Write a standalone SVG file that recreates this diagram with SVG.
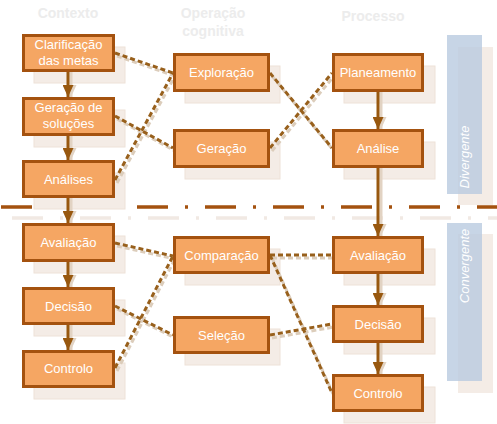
<svg xmlns="http://www.w3.org/2000/svg" width="497" height="424" viewBox="0 0 497 424">
<defs>
<style>
.hdr{font-family:"Liberation Sans",Arial,sans-serif;font-size:14px;font-weight:bold;fill:#ececec;text-anchor:middle}
.sh{fill:#f4ece6;stroke:#eee2d8;stroke-width:1}
.box{fill:#f5a663;stroke:#a4520f;stroke-width:3}
.lbl{font-family:"Liberation Sans",Arial,sans-serif;font-size:13px;fill:#ffffff;text-anchor:middle}
.dot{fill:none;stroke:#98601c;stroke-width:3;stroke-dasharray:5 3}
.dotsh{fill:none;stroke:#dccdbb;stroke-width:3;stroke-dasharray:5 3}
.arr{stroke:#98580f;stroke-width:3}
.arrsh{stroke:#e2d3c3;stroke-width:3}
.side{font-family:"Liberation Sans",Arial,sans-serif;font-size:13px;font-style:italic;fill:#ffffff;text-anchor:middle}
</style>
<marker id="ah" markerWidth="12" markerHeight="11" refX="12" refY="5.5" orient="auto" markerUnits="userSpaceOnUse" viewBox="0 0 12 11">
<path d="M0,0 L12,5.5 L0,11 Z" fill="#98580f"/>
</marker>
<marker id="ahs" markerWidth="12" markerHeight="11" refX="12" refY="5.5" orient="auto" markerUnits="userSpaceOnUse" viewBox="0 0 12 11">
<path d="M0,0 L12,5.5 L0,11 Z" fill="#e2d3c3"/>
</marker>
</defs>
<rect width="497" height="424" fill="#ffffff"/>

<g id="headers">
<text class="hdr" x="68" y="18">Contexto</text>
<text class="hdr" x="213" y="18">Operação</text>
<text class="hdr" x="213" y="36">cognitiva</text>
<text class="hdr" x="373" y="21">Processo</text>
</g>

<g id="phases">
<rect x="458" y="47" width="35" height="158" fill="#f4ece6"/>
<rect x="447" y="35" width="35" height="159" fill="#b9cae0" fill-opacity="0.8"/>
<text class="side" transform="translate(469,157) rotate(-90)">Divergente</text>
<rect x="458" y="234" width="35" height="159" fill="#f4ece6"/>
<rect x="447" y="223" width="35" height="158" fill="#b9cae0" fill-opacity="0.8"/>
<text class="side" transform="translate(469,266) rotate(-90)">Convergente</text>
</g>

<g id="separator">
<line x1="12" y1="218" x2="497" y2="218" stroke="#f1e9e3" stroke-width="3.5" stroke-dasharray="31 17 3 17"/>
<line x1="1" y1="207" x2="497" y2="207" stroke="#a4520f" stroke-width="3.5" stroke-dasharray="31 17 3 17"/>
</g>

<g id="shadows">
<rect class="sh" x="34" y="47" width="91" height="36"/>
<rect class="sh" x="34" y="110" width="91" height="37"/>
<rect class="sh" x="34" y="173" width="91" height="36"/>
<rect class="sh" x="34" y="236" width="91" height="37"/>
<rect class="sh" x="34" y="300" width="91" height="36"/>
<rect class="sh" x="34" y="363" width="91" height="36"/>
<rect class="sh" x="185" y="66" width="95" height="37"/>
<rect class="sh" x="185" y="142" width="95" height="37"/>
<rect class="sh" x="185" y="249" width="95" height="36"/>
<rect class="sh" x="185" y="329" width="95" height="36"/>
<rect class="sh" x="344" y="66" width="91" height="37"/>
<rect class="sh" x="344" y="142" width="91" height="37"/>
<rect class="sh" x="344" y="249" width="91" height="36"/>
<rect class="sh" x="344" y="318" width="91" height="36"/>
<rect class="sh" x="344" y="387" width="91" height="36"/>
</g>

<g id="connectors">
<g transform="translate(2,3)">
<path class="dotsh" d="M115,53 L173,73"/>
<path class="dotsh" d="M115,180 L173,73"/>
<path class="dotsh" d="M115,116 L173,148"/>
<path class="dotsh" d="M270,73 L332,148"/>
<path class="dotsh" d="M270,148 L332,73"/>
<path class="dotsh" d="M115,243 L173,256"/>
<path class="dotsh" d="M115,306 L173,335"/>
<path class="dotsh" d="M115,368 L173,256"/>
<path class="dotsh" d="M270,255 L332,255"/>
<path class="dotsh" d="M270,255 L332,393"/>
<path class="dotsh" d="M270,335 L332,324"/>
</g>
<path class="dot" d="M115,53 L173,73"/>
<path class="dot" d="M115,180 L173,73"/>
<path class="dot" d="M115,116 L173,148"/>
<path class="dot" d="M270,73 L332,148"/>
<path class="dot" d="M270,148 L332,73"/>
<path class="dot" d="M115,243 L173,256"/>
<path class="dot" d="M115,306 L173,335"/>
<path class="dot" d="M115,368 L173,256"/>
<path class="dot" d="M270,255 L332,255"/>
<path class="dot" d="M270,255 L332,393"/>
<path class="dot" d="M270,335 L332,324"/>

<g transform="translate(3,0)">
<line class="arrsh" x1="68" y1="72" x2="68" y2="97" marker-end="url(#ahs)"/>
<line class="arrsh" x1="68" y1="136" x2="68" y2="160" marker-end="url(#ahs)"/>
<line class="arrsh" x1="68" y1="198" x2="68" y2="223" marker-end="url(#ahs)"/>
<line class="arrsh" x1="68" y1="262" x2="68" y2="287" marker-end="url(#ahs)"/>
<line class="arrsh" x1="68" y1="325" x2="68" y2="350" marker-end="url(#ahs)"/>
<line class="arrsh" x1="378" y1="92" x2="378" y2="129" marker-end="url(#ahs)"/>
<line class="arrsh" x1="378" y1="168" x2="378" y2="236" marker-end="url(#ahs)"/>
<line class="arrsh" x1="378" y1="274" x2="378" y2="305" marker-end="url(#ahs)"/>
<line class="arrsh" x1="378" y1="343" x2="378" y2="374" marker-end="url(#ahs)"/>
</g>
<line class="arr" x1="68" y1="72" x2="68" y2="97" marker-end="url(#ah)"/>
<line class="arr" x1="68" y1="136" x2="68" y2="160" marker-end="url(#ah)"/>
<line class="arr" x1="68" y1="198" x2="68" y2="223" marker-end="url(#ah)"/>
<line class="arr" x1="68" y1="262" x2="68" y2="287" marker-end="url(#ah)"/>
<line class="arr" x1="68" y1="325" x2="68" y2="350" marker-end="url(#ah)"/>
<line class="arr" x1="378" y1="92" x2="378" y2="129" marker-end="url(#ah)"/>
<line class="arr" x1="378" y1="168" x2="378" y2="236" marker-end="url(#ah)"/>
<line class="arr" x1="378" y1="274" x2="378" y2="305" marker-end="url(#ah)"/>
<line class="arr" x1="378" y1="343" x2="378" y2="374" marker-end="url(#ah)"/>
</g>

<g id="n-clarificacao"><rect class="box" x="23.5" y="35.5" width="90" height="35"/><text class="lbl" x="68.5" y="49">Clarificação</text><text class="lbl" x="68.5" y="65">das metas</text></g>
<g id="n-geracao-solucoes"><rect class="box" x="23.5" y="98.5" width="90" height="36"/><text class="lbl" x="68.5" y="112">Geração de</text><text class="lbl" x="68.5" y="128">soluções</text></g>
<g id="n-analises"><rect class="box" x="23.5" y="161.5" width="90" height="35"/><text class="lbl" x="68.5" y="184">Análises</text></g>
<g id="n-avaliacao-l"><rect class="box" x="23.5" y="224.5" width="90" height="36"/><text class="lbl" x="68.5" y="247">Avaliação</text></g>
<g id="n-decisao-l"><rect class="box" x="23.5" y="288.5" width="90" height="35"/><text class="lbl" x="68.5" y="311">Decisão</text></g>
<g id="n-controlo-l"><rect class="box" x="23.5" y="351.5" width="90" height="35"/><text class="lbl" x="68.5" y="373">Controlo</text></g>

<g id="n-exploracao"><rect class="box" x="174.5" y="54.5" width="94" height="36"/><text class="lbl" x="221.5" y="77">Exploração</text></g>
<g id="n-geracao"><rect class="box" x="174.5" y="130.5" width="94" height="36"/><text class="lbl" x="221.5" y="153">Geração</text></g>
<g id="n-comparacao"><rect class="box" x="174.5" y="237.5" width="94" height="35"/><text class="lbl" x="221.5" y="260">Comparação</text></g>
<g id="n-selecao"><rect class="box" x="174.5" y="317.5" width="94" height="35"/><text class="lbl" x="221.5" y="340">Seleção</text></g>

<g id="n-planeamento"><rect class="box" x="333.5" y="54.5" width="89" height="36"/><text class="lbl" x="378" y="77">Planeamento</text></g>
<g id="n-analise"><rect class="box" x="333.5" y="130.5" width="89" height="36"/><text class="lbl" x="378" y="153">Análise</text></g>
<g id="n-avaliacao-r"><rect class="box" x="333.5" y="237.5" width="89" height="35"/><text class="lbl" x="378" y="260">Avaliação</text></g>
<g id="n-decisao-r"><rect class="box" x="333.5" y="306.5" width="89" height="35"/><text class="lbl" x="378" y="329">Decisão</text></g>
<g id="n-controlo-r"><rect class="box" x="333.5" y="375.5" width="89" height="35"/><text class="lbl" x="378" y="398">Controlo</text></g>
</svg>
